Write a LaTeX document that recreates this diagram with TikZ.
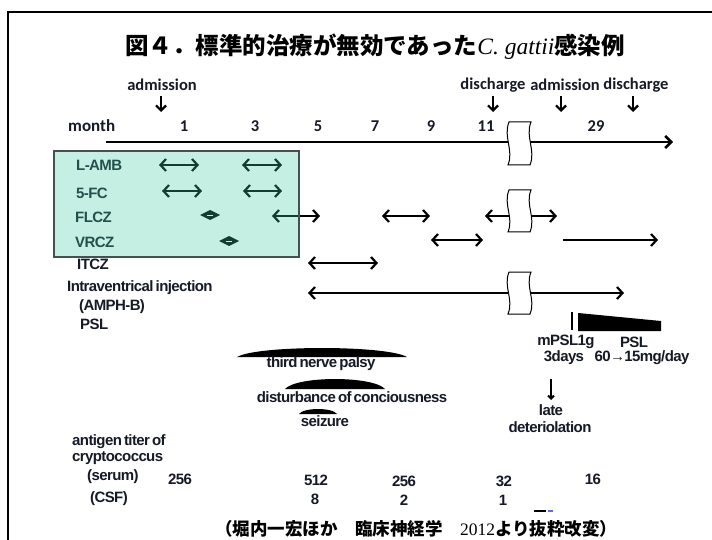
\documentclass[tikz,border=0pt]{standalone}
\usepackage{fontspec}
\setmainfont{Liberation Sans}[WordSpace=0.6, LetterSpace=-4]
\newfontfamily\cjk{Noto Sans CJK JP}
\newfontfamily\tms{Liberation Serif}
\newfontfamily\carl{Carlito}
\usetikzlibrary{arrows.meta}
\definecolor{txt}{RGB}{22,26,40}
\definecolor{tealov}{RGB}{65,205,165}
\definecolor{boxline}{RGB}{70,80,80}
\newcommand\brksym[3]{%
  \filldraw[fill=white,draw=black,line width=1pt]
    (#1+2,#2) -- (#1+24,#2)
    .. controls (#1+18,{#2+0.35*(#3-#2)}) and (#1+29,{#2+0.65*(#3-#2)}) .. (#1+23,#3)
    -- (#1+1,#3)
    .. controls (#1+7,{#2+0.65*(#3-#2)}) and (#1-4,{#2+0.35*(#3-#2)}) .. (#1+2,#2) -- cycle;}
\newcommand\domeshape[4]{% x1 x2 ytop ybot
  \fill (#1,#4) .. controls ({#1+0.12*(#2-#1)},{#4-1.33*(#4-#3)}) and ({#2-0.12*(#2-#1)},{#4-1.33*(#4-#3)}) .. (#2,#4) -- cycle;}
\newcommand\dmd[2]{%
  \fill (#1-10,#2) .. controls (#1-5,#2-3) .. (#1,#2-5) .. controls (#1+5,#2-3) .. (#1+10,#2)
     .. controls (#1+5,#2+3) .. (#1,#2+5) .. controls (#1-5,#2+3) .. (#1-10,#2) -- cycle;
  \draw[white,line width=0.6pt] (#1-3,#2) -- (#1+3,#2);}
\tikzset{
  lbl/.style={font=\fontsize{15}{17}\selectfont\bfseries, text=txt, inner sep=0pt},
  cal/.style={font=\fontsize{16.5}{18}\selectfont\carl\bfseries, text=txt, inner sep=0pt},
  dbl/.style={line width=2.2pt, {Straight Barb[length=5.5pt,width=12pt]}-{Straight Barb[length=5.5pt,width=12pt]}},
  sgl/.style={line width=2.2pt, -{Straight Barb[length=5.5pt,width=12pt]}},
  dn/.style={line width=2.2pt, -{Straight Barb[length=5pt,width=10pt]}},
}
\begin{document}
\begin{tikzpicture}[x=1pt,y=-1pt]
\useasboundingbox (0,0) rectangle (712,540);
\fill[white] (0,0) rectangle (712,540);
\draw[line width=1.2pt] (8,540) -- (8,12) -- (712,12);

% title
\node[inner sep=0pt, font=\fontsize{23.5}{26}\selectfont\cjk\bfseries] (title) at (375,47)
  {図４．標準的治療が無効であった{\tms\mdseries\itshape C. gattii}感染例};

% top events
\node[cal] (adm1) at (162,85) {admission};
\node[cal] (dis1) at (493,85) {discharge};
\node[cal] (adm2) at (565,85) {admission};
\node[cal] (dis2) at (636,85) {discharge};
\draw[dn] (161,96) -- (161,112);
\draw[dn] (493,96) -- (493,112);
\draw[dn] (561,96) -- (561,112);
\draw[dn] (633,96) -- (633,112);

% axis
\node[cal, anchor=west, font=\fontsize{17}{19}\selectfont\carl\bfseries] (month) at (68,126) {month};
\node[cal] (m1) at (184,126) {1};
\node[cal] (m3) at (255,126) {3};
\node[cal] (m5) at (318,126) {5};
\node[cal] (m7) at (375,126) {7};
\node[cal] (m9) at (431,126) {9};
\node[cal] (m11) at (486,126) {11};
\node[cal] (m29) at (596,126) {29};
\draw[line width=2.6pt, -{Straight Barb[length=6pt,width=12pt]}] (106,142) -- (673,142);

% row labels
\node[lbl, anchor=west] (lamb) at (76,165) {L-AMB};
\node[lbl, anchor=west] (fc) at (76,193) {5-FC};
\node[lbl, anchor=west] (flcz) at (75,217) {FLCZ};
\node[lbl, anchor=west] (vrcz) at (75,242) {VRCZ};
\node[lbl, anchor=west] (itcz) at (77,264) {ITCZ};
\node[lbl, anchor=west] (ivi) at (67,288) {Intraventrical injection};
\node[lbl, anchor=west] (amph) at (79,307) {(AMPH-B)};
\node[lbl, anchor=west] (psl) at (80,324) {PSL};

% treatment arrows
\draw[dbl] (159,165) -- (199,165);
\draw[dbl] (242,165) -- (282,165);
\draw[dbl] (162,191) -- (202,191);
\draw[dbl] (243,191) -- (282,191);
\dmd{210}{215}
\draw[dbl] (272,216) -- (320,216);
\draw[dbl] (382,216) -- (430,216);
\draw[dbl] (485,216) -- (557,216);
\dmd{229}{241}
\draw[dbl] (431,240) -- (483,240);
\draw[sgl] (563,240) -- (658,240);
\draw[dbl] (308,263) -- (378,263);
\draw[dbl] (308,293) -- (624,293);

% translucent box
\fill[tealov, fill opacity=0.3] (54,151) rectangle (299,257);
\draw[boxline, line width=1.3pt] (54,151) rectangle (299,257);

% breaks
\brksym{507}{122}{165}
\brksym{507}{190}{232}
\brksym{507}{272}{314}

% PSL
\draw[line width=2pt] (572,312) -- (572,330);
\fill (578,313) -- (661,321) -- (661,331) -- (578,331) -- cycle;
\node[lbl] (mpsl) at (566,342) {mPSL1g};
\node[lbl] (days) at (564,358) {3days};
\node[lbl] (psl2) at (634,342) {PSL};
\node[lbl] (dose) at (642,358) {60→15mg/day};

% late deterioration
\draw[line width=2pt, -{Straight Barb[length=3pt,width=6pt]}] (551,379) -- (551,400);
\node[lbl] (late) at (551,410) {late};
\node[lbl] (deter) at (550,427) {deteriolation};

% symptoms
\domeshape{237}{407}{348}{357}
\node[lbl] (tnp) at (321,364) {third nerve palsy};
\domeshape{285}{385}{379}{389}
\node[lbl] (doc) at (352,397) {disturbance of conciousness};
\domeshape{299}{337}{409}{414}
\node[lbl] (seiz) at (325,421) {seizure};

% antigen titers
\node[lbl, anchor=west] (ant1) at (72,442) {antigen titer of};
\node[lbl, anchor=west] (ant2) at (72,458) {cryptococcus};
\node[lbl, anchor=west] (ser) at (87,477) {(serum)};
\node[lbl, anchor=west] (csf) at (90,499) {(CSF)};
\node[lbl] (s1) at (180,479) {256};
\node[lbl] (s2) at (316,480) {512};
\node[lbl] (s3) at (404,481) {256};
\node[lbl] (s4) at (504,481) {32};
\node[lbl] (s5) at (593,479) {16};
\node[lbl] (c1) at (315,499) {8};
\node[lbl] (c2) at (404,500) {2};
\node[lbl] (c3) at (503,500) {1};
\draw[line width=1.5pt] (534,511) -- (546,511);
\draw[blue!60, line width=1.5pt] (548,511) -- (553,511);

% footer
\node[inner sep=0pt, anchor=west, font=\fontsize{17.5}{20}\selectfont\cjk\bfseries] (foot) at (215,529)
  {（堀内一宏ほか　臨床神経学　{\tms\mdseries 2012}より抜粋改変）};
\end{tikzpicture}
\end{document}
